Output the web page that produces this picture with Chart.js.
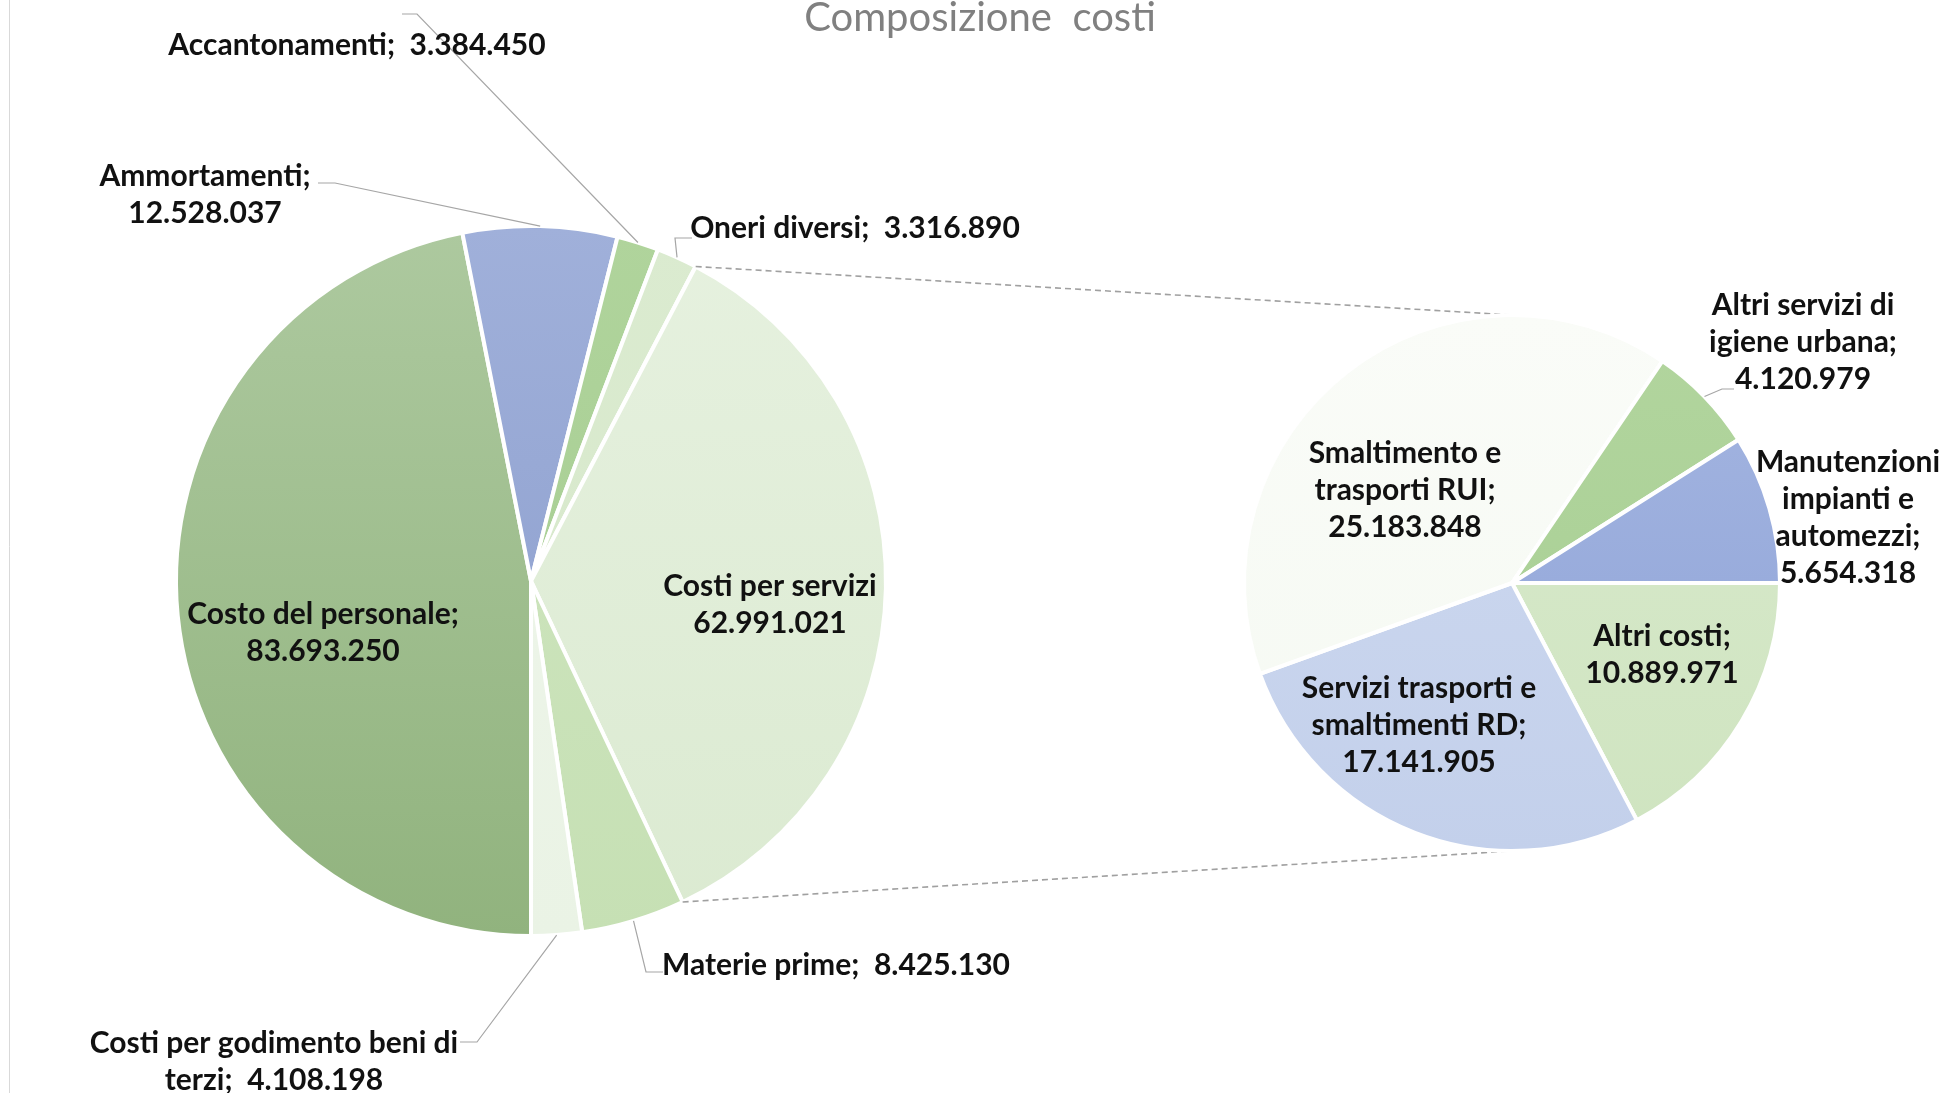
<!DOCTYPE html>
<html>
<head>
<meta charset="utf-8">
<title>Composizione costi</title>
<script src="https://cdn.jsdelivr.net/npm/chart.js@4.4.1/dist/chart.umd.min.js"></script>
<style>
  html, body { margin: 0; padding: 0; background: #ffffff; overflow: hidden; }
  #wrap { position: relative; width: 1946px; height: 1093px; }
  canvas { position: absolute; left: 0; top: 0; }
</style>
</head>
<body>
<div id="wrap">
  <canvas id="mainPie" width="1946" height="1093"></canvas>
  <canvas id="detailPie" width="1946" height="1093"></canvas>
</div>
<script>
var chartTitle = "Composizione  costi";

// torta principale (senso orario partendo dal basso)
var mainCategories = [
  "Costo del personale",
  "Ammortamenti",
  "Accantonamenti",
  "Oneri diversi",
  "Costi per servizi",
  "Materie prime",
  "Costi per godimento beni di terzi",
];
var mainValues = [83693250, 12528037, 3384450, 3316890, 62991021, 8425130, 4108198];

// dettaglio "Costi per servizi" (senso orario partendo da destra)
var detailCategories = [
  "Altri costi",
  "Servizi trasporti e smaltimenti RD",
  "Smaltimento e trasporti RUI",
  "Altri servizi di igiene urbana",
  "Manutenzioni impianti e automezzi",
];
var detailValues = [10889971, 17141905, 25183848, 4120979, 5654318];

// colori (alto, basso) per un leggero sfumato verticale
var mainColors = [
  ["#adc99f", "#91b37e"],
  ["#a0b0da", "#889bcb"],
  ["#b0d49c", "#a3cb8f"],
  ["#dbebd0", "#d5e7c9"],
  ["#e6f1df", "#dbead1"],
  ["#d0e6c1", "#c6e0b4"],
  ["#eff6eb", "#eaf3e5"],
];
var detailColors = [
  ["#d9eacd", "#cfe4c0"],
  ["#cfdaf0", "#c3d0eb"],
  ["#fafcf8", "#f5f9f2"],
  ["#b2d59e", "#a6ce92"],
  ["#a5b6e1", "#8da2d7"],
];

// posizione etichette rispetto al centro della torta
var mainLabelLayout = [
  { dx: -208, dy: 52, valueLine: true },
  { dx: -326, dy: -386, valueLine: true, leader: [[-213, -398], [-196, -398]] },
  { dx: -174, dy: -536, leader: [[-129, -567], [-114, -567]] },
  { dx: 324, dy: -353, leader: [[161, -343], [144, -343]] },
  { dx: 239, dy: 24, valueLine: true, semi: false },
  { dx: 305, dy: 384, leader: [[132, 391], [115, 391]] },
  { dx: -257, dy: 481, split: [5], leader: [[-71, 461], [-54, 461]] },
];
var detailLabelLayout = [
  { dx: 150, dy: 72, valueLine: true },
  { dx: -93, dy: 142, valueLine: true, split: [3] },
  { dx: -107, dy: -93, valueLine: true, split: [2] },
  { dx: 291, dy: -241, valueLine: true, split: [3], leader: [[222, -194], [210, -194]] },
  { dx: 336, dy: -65, valueLine: true, split: [1, 2] },
];

function formatIt(n) {
  return String(n).replace(/\B(?=(\d{3})+(?!\d))/g, ".");
}

function buildLines(name, value, lay) {
  var words = name.split(" ");
  var lines = [];
  var pos = 0;
  (lay.split || []).forEach(function (count) {
    lines.push(words.slice(pos, pos + count).join(" "));
    pos += count;
  });
  var last = words.slice(pos).join(" ") + (lay.semi === false ? "" : ";");
  if (lay.valueLine) {
    lines.push(last);
    lines.push(formatIt(value));
  } else {
    lines.push(last + "  " + formatIt(value));
  }
  return lines;
}

function gradientFill(colors) {
  return function (context) {
    var c = colors[context.dataIndex];
    var area = context.chart.chartArea;
    if (!area) return c[0];
    var g = context.chart.ctx.createLinearGradient(0, area.top, 0, area.bottom);
    g.addColorStop(0, c[0]);
    g.addColorStop(1, c[1]);
    return g;
  };
}

var pieLabels = {
  id: "pieLabels",
  afterDatasetsDraw: function (chart, args, opts) {
    var ctx = chart.ctx;
    var meta = chart.getDatasetMeta(0);
    var cats = chart.data.labels;
    var vals = chart.data.datasets[0].data;
    ctx.save();
    meta.data.forEach(function (arc, i) {
      var p = arc.getProps(["x", "y", "startAngle", "endAngle", "outerRadius"], true);
      var lay = opts.layout[i];
      var mid = (p.startAngle + p.endAngle) / 2;
      if (lay.leader) {
        ctx.beginPath();
        ctx.strokeStyle = "#a6a6a6";
        ctx.lineWidth = 1.2;
        lay.leader.forEach(function (pt, k) {
          if (k === 0) ctx.moveTo(p.x + pt[0], p.y + pt[1]);
          else ctx.lineTo(p.x + pt[0], p.y + pt[1]);
        });
        ctx.lineTo(p.x + Math.cos(mid) * p.outerRadius, p.y + Math.sin(mid) * p.outerRadius);
        ctx.stroke();
      }
      var lines = buildLines(cats[i], vals[i], lay);
      ctx.font = opts.font;
      ctx.fillStyle = "#111111";
      ctx.textAlign = "center";
      ctx.textBaseline = "middle";
      var cx = p.x + lay.dx;
      var top = p.y + lay.dy - (lines.length - 1) * opts.lineHeight / 2;
      lines.forEach(function (line, k) {
        ctx.fillText(line, cx, top + k * opts.lineHeight);
      });
    });
    ctx.restore();
  },
};

var frameAndTitle = {
  id: "frameAndTitle",
  afterDraw: function (chart) {
    var ctx = chart.ctx;
    ctx.save();
    ctx.strokeStyle = "#d9d9d9";
    ctx.lineWidth = 1;
    ctx.beginPath();
    ctx.moveTo(9.5, 0);
    ctx.lineTo(9.5, chart.height);
    ctx.stroke();
    ctx.font = "40px Lato";
    ctx.fillStyle = "#808080";
    ctx.textAlign = "center";
    ctx.textBaseline = "alphabetic";
    ctx.fillText(chartTitle, 980, 31);
    ctx.restore();
  },
};

var mainChart = new Chart(document.getElementById("mainPie"), {
  type: "pie",
  data: {
    labels: mainCategories,
    datasets: [{
      data: mainValues,
      backgroundColor: gradientFill(mainColors),
      borderColor: "#ffffff",
      borderWidth: 4,
    }],
  },
  options: {
    responsive: false,
    animation: false,
    events: [],
    rotation: 180,
    radius: 355,
    layout: { padding: { left: 176, top: 226, right: 1060, bottom: 157 } },
    plugins: {
      legend: { display: false },
      tooltip: { enabled: false },
      pieLabels: { layout: mainLabelLayout, font: "bold 30px Lato", lineHeight: 37 },
    },
  },
  plugins: [pieLabels, frameAndTitle],
});

var connectors = {
  id: "connectors",
  beforeDatasetsDraw: function (chart) {
    var ctx = chart.ctx;
    var src = mainChart.getDatasetMeta(0).data[4].getProps(["x", "y", "startAngle", "endAngle", "outerRadius"], true);
    var dst = chart.getDatasetMeta(0).data[0].getProps(["x", "y", "outerRadius"], true);
    ctx.save();
    ctx.strokeStyle = "#a0a0a0";
    ctx.lineWidth = 1.6;
    ctx.setLineDash([6, 4]);
    ctx.beginPath();
    ctx.moveTo(src.x + Math.cos(src.startAngle) * src.outerRadius, src.y + Math.sin(src.startAngle) * src.outerRadius);
    ctx.lineTo(dst.x, dst.y - dst.outerRadius);
    ctx.moveTo(src.x + Math.cos(src.endAngle) * src.outerRadius, src.y + Math.sin(src.endAngle) * src.outerRadius);
    ctx.lineTo(dst.x, dst.y + dst.outerRadius);
    ctx.stroke();
    ctx.restore();
  },
};

var detailChart = new Chart(document.getElementById("detailPie"), {
  type: "pie",
  data: {
    labels: detailCategories,
    datasets: [{
      data: detailValues,
      backgroundColor: gradientFill(detailColors),
      borderColor: "#ffffff",
      borderWidth: 4,
    }],
  },
  options: {
    responsive: false,
    animation: false,
    events: [],
    rotation: 90,
    radius: 268,
    layout: { padding: { left: 1244, top: 315, right: 166, bottom: 242 } },
    plugins: {
      legend: { display: false },
      tooltip: { enabled: false },
      pieLabels: { layout: detailLabelLayout, font: "bold 30px Lato", lineHeight: 37 },
    },
  },
  plugins: [connectors, pieLabels],
});
</script>
</body>
</html>
